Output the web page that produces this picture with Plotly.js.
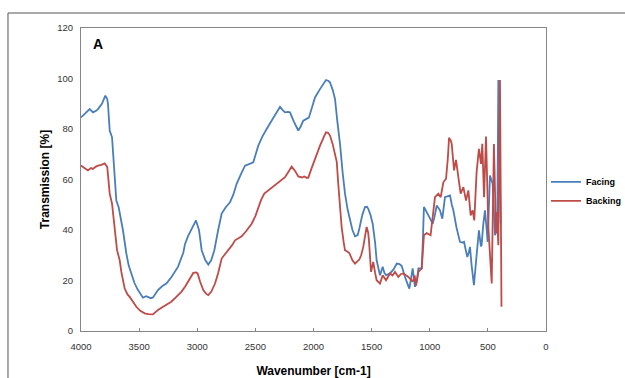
<!DOCTYPE html>
<html>
<head>
<meta charset="utf-8">
<script src="https://cdn.plot.ly/plotly-3.0.1.min.js"></script>
<style>html,body{margin:0;padding:0;background:#fff;}#chart{width:625px;height:378px;}</style>
</head>
<body>
<div id="chart"></div>
<script>
const facingWavenumber = [4000,3960,3925,3897,3870,3854,3820,3791,3775,3768,3753,3733,3716,3696,3676,3655,3639,3610,3590,3567,3540,3510,3467,3440,3424,3400,3381,3360,3338,3300,3266,3220,3166,3120,3105,3080,3040,3011,2985,2962,2930,2905,2880,2853,2820,2790,2755,2718,2690,2661,2625,2589,2550,2518,2475,2440,2403,2350,2288,2265,2245,2220,2202,2170,2131,2110,2088,2060,2040,2010,1987,1944,1910,1893,1870,1858,1835,1815,1795,1772,1750,1729,1706,1686,1665,1643,1620,1606,1580,1557,1540,1529,1510,1491,1470,1457,1440,1428,1405,1390,1376,1342,1310,1284,1260,1241,1213,1190,1176,1160,1147,1127,1110,1098,1069,1060,1050,1026,998,975,960,940,912,892,869,845,826,810,797,770,740,720,705,690,677,665,654,640,620,597,577,560,554,540,525,510,502,482,459,439,419,410,390];
const facingT = [84.6,86.2,87.9,86.6,87.2,87.9,90,93.2,92,90,79.4,76.7,63.6,51.7,49,44,39.9,30.7,26,22.8,19,16.2,13.2,13.8,13.5,13.0,13.3,14.5,16.2,17.8,18.8,21.5,25.4,31,34.5,37.5,41.5,43.8,40,32,28,26.3,28,32,40,46.5,49,51,54,58.3,62,65.5,66.2,66.8,73.4,77,80,84,88.8,87.5,86.6,86.8,86.6,83,79.4,81,83.3,84,84.5,89,92.5,95.8,98.5,99.4,99,98.4,95.5,91.9,83,74.1,63,54.4,48,43.8,40,37.5,38,40.5,46,49.1,49.2,48.4,46,42.5,35,28,24,22.1,25.4,23,22.1,22.8,24.5,26.7,26.5,25.7,21.4,18.5,16.8,21,24.8,17.5,20,24.8,24.8,35,49.1,47.1,44.5,42.5,45,49.7,47.8,44.5,53,53.5,53.7,50,47.8,41,35.3,35,35.3,32,29.3,31,33.3,26,18.2,30,39.9,33.5,34,42,47.8,40,35.3,61.6,58.3,37.9,41.2,99.4,42.5];

const backingWavenumber = [4000,3970,3940,3915,3897,3875,3854,3825,3796,3774,3753,3733,3710,3690,3667,3653,3624,3600,3581,3555,3524,3490,3452,3420,3381,3360,3338,3280,3223,3180,3137,3105,3080,3050,3034,3010,2997,2975,2948,2925,2905,2880,2847,2820,2790,2760,2733,2700,2675,2640,2618,2580,2532,2500,2475,2450,2423,2380,2331,2290,2245,2210,2188,2160,2131,2100,2079,2059,2045,2020,2002,1987,1944,1910,1893,1875,1858,1835,1815,1800,1787,1772,1758,1740,1729,1710,1692,1665,1643,1625,1606,1590,1572,1555,1543,1530,1523,1505,1486,1470,1457,1428,1405,1376,1342,1320,1299,1270,1250,1227,1184,1147,1130,1118,1098,1069,1050,1026,993,975,955,926,906,883,860,845,834,820,811,791,774,754,734,711,688,668,648,631,617,597,577,559,548,533,516,496,467,448,430,422,410,396,383];
const backingT = [65.5,64.5,63.6,64.5,64.2,65,65.5,65.8,66.4,64.9,54.4,50.4,41.2,32,28,23.4,16.8,14.5,13.5,11.5,9.6,8,7,6.7,6.6,7.5,8.3,10,11.6,13.5,15.5,17.5,19.5,22,23,23.2,22.8,19.5,16.2,14.8,14.2,15.5,18.8,23,28.7,30.5,32,34,35.9,37,37.5,39.5,42.5,45.5,49.1,52,54.4,56,57.6,59.2,60.9,63.5,65.1,63.5,61.2,60.8,61.2,60.7,60.7,64,66.2,68.8,73.4,77,78.7,78.5,77.4,74,70.2,67,58.3,50,41.2,35,32,31.5,30.9,28,26.7,27.5,28.3,30,33.3,38,41.2,39,35.9,23.4,27.4,23,20.1,18.8,22.1,20.1,22.8,22,23.4,21.4,22.5,22.8,21.4,19.5,22,18,23.4,24.8,37.9,38.8,37.9,45,53,54.4,53,58.9,60.3,68,76.5,75.5,74.1,63.6,67.8,60.9,54.4,57,51.7,55.7,45.8,47.8,43.8,62.9,72.1,66.2,74.1,53,77,41.2,18.8,74.1,38.6,47,34,99.4,9.6];

const xTickVals = [4000,3500,3000,2500,2000,1500,1000,500,0];
const yTickVals = [0,20,40,60,80,100,120];

const traces = [
  {x: facingWavenumber, y: facingT, name: 'Facing', type: 'scatter', mode: 'lines',
   line: {color: '#4A7EBB', width: 1.8}},
  {x: backingWavenumber, y: backingT, name: 'Backing', type: 'scatter', mode: 'lines',
   line: {color: '#BE4B48', width: 1.8}}
];

const layout = {
  width: 625, height: 378,
  margin: {l: 81, r: 79, t: 28, b: 47, autoexpand: false},
  paper_bgcolor: '#ffffff', plot_bgcolor: '#ffffff',
  font: {family: 'Liberation Sans, Arial, sans-serif', color: '#000'},
  showlegend: true,
  legend: {x: 1.0, xanchor: 'left', y: 0.54, yanchor: 'top',
           font: {size: 9, color: '#000', family: 'Liberation Sans, Arial, sans-serif', weight: 'bold'},
           bgcolor: 'rgba(0,0,0,0)', tracegroupgap: 0, itemwidth: 30},
  xaxis: {
    range: [4000, 0], autorange: false, automargin: false,
    tickvals: xTickVals, ticktext: xTickVals.map(String),
    showgrid: false, zeroline: false,
    showline: true, linecolor: '#868686', linewidth: 1, mirror: true,
    ticks: 'inside', ticklen: 3, tickcolor: '#868686',
    ticklabelstandoff: 7,
    tickfont: {size: 9.5, color: '#333'},
    title: {text: 'Wavenumber [cm-1]', font: {size: 12, color: '#000', weight: 'bold'}, standoff: 15}
  },
  yaxis: {
    range: [0, 120], autorange: false, automargin: false,
    tickvals: yTickVals, ticktext: yTickVals.map(String),
    showgrid: false, zeroline: false,
    showline: true, linecolor: '#868686', linewidth: 1, mirror: true,
    ticks: '', ticklen: 0,
    ticklabelstandoff: 5,
    tickfont: {size: 9.5, color: '#333'},
    title: {text: 'Transmission [%]', font: {size: 12, color: '#000', weight: 'bold'}, standoff: 5}
  },
  annotations: [
    {text: '<b>A</b>', xref: 'paper', yref: 'paper', x: 0.037, y: 0.947,
     showarrow: false, font: {size: 14, color: '#000'}, xanchor: 'center', yanchor: 'middle'}
  ],
  shapes: [
    {type: 'rect', xref: 'paper', yref: 'paper', x0: -0.157, x1: 1.2, y0: -0.2, y1: 1.0495,
     line: {color: '#555', width: 1}, fillcolor: 'rgba(0,0,0,0)', layer: 'below'}
  ]
};

Plotly.newPlot('chart', traces, layout, {displayModeBar: false, staticPlot: true});
</script>
</body>
</html>
